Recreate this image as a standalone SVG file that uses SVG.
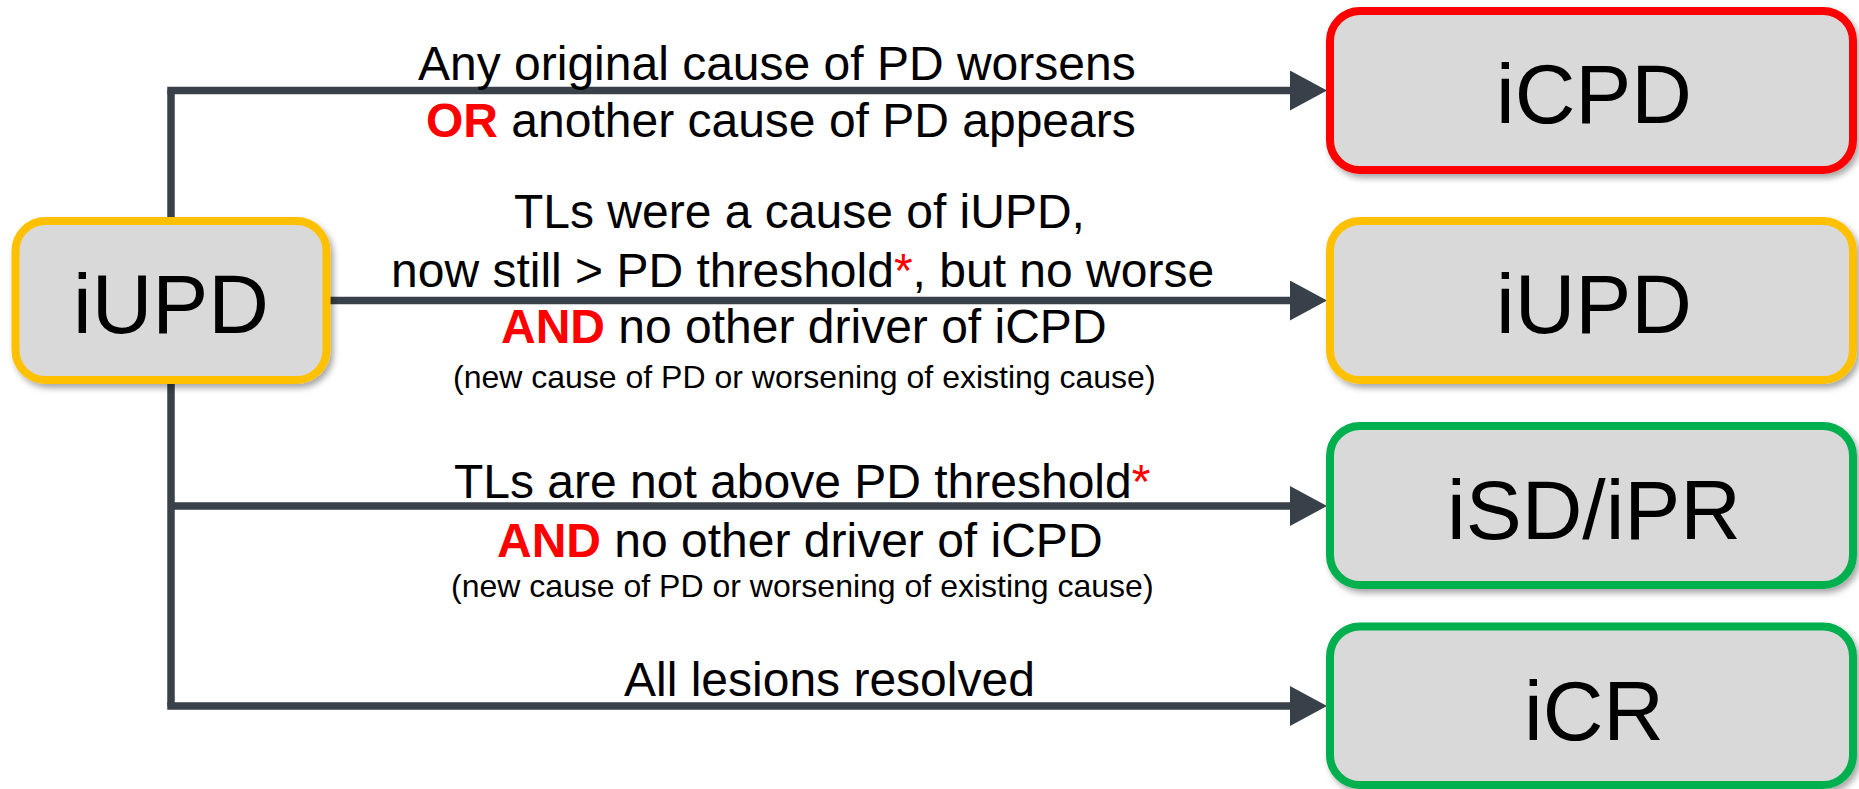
<svg xmlns="http://www.w3.org/2000/svg" width="1859" height="789" viewBox="0 0 1859 789">
<style>
.node{fill:#D9D9D9;stroke-width:8;filter:url(#sh)}
.red{stroke:#FF0000}
.amber{stroke:#FFC000}
.green{stroke:#00B050}
.nt{font-family:"Liberation Sans",Arial,sans-serif;font-size:84px;fill:#000;text-anchor:middle}
.lbl{font-family:"Liberation Sans",Arial,sans-serif;font-size:48px;fill:#000}
.sm{font-size:32px}
.kw{fill:#FF0000;font-weight:bold}
.ast{fill:#FF0000}
.conn{fill:none;stroke:#384149;stroke-width:7.5}
.arr{marker-end:url(#ah)}
</style>
<defs>
<filter id="sh" x="-10%" y="-10%" width="125%" height="130%">
<feDropShadow dx="3" dy="4" stdDeviation="3" flood-color="#000" flood-opacity="0.35"/>
</filter>
<marker id="ah" markerUnits="userSpaceOnUse" markerWidth="38" markerHeight="40" refX="0" refY="20" orient="auto" viewBox="0 0 38 40">
<path d="M0,0 L37,20 L0,40 Z" fill="#384149"/>
</marker>
</defs>
<rect width="1859" height="789" fill="#FFFFFF"/>
<g id="connectors">
<path class="conn" d="M171,90.5 V706" stroke-linejoin="round"/>
<path class="conn arr" d="M167.25,90.5 H1290"/>
<path class="conn arr" d="M167.25,706 H1290"/>
<path class="conn arr" d="M171,300.5 H1290"/>
<path class="conn arr" d="M171,506 H1290"/>
</g>
<g id="node-iUPD-source">
<rect class="node amber" x="15.5" y="221" width="311" height="159" rx="30" ry="30"/>
<text class="nt" x="171" y="333">iUPD</text>
</g>
<g id="node-iCPD">
<rect class="node red" x="1330" y="11" width="523" height="159" rx="30" ry="30"/>
<text class="nt" x="1594" y="123">iCPD</text>
</g>
<g id="node-iUPD">
<rect class="node amber" x="1330" y="221" width="523" height="159" rx="30" ry="30"/>
<text class="nt" x="1594" y="333">iUPD</text>
</g>
<g id="node-iSD-iPR">
<rect class="node green" x="1330" y="426" width="523" height="159" rx="30" ry="30"/>
<text class="nt" x="1594" y="539">iSD/iPR</text>
</g>
<g id="node-iCR">
<rect class="node green" x="1330" y="626.5" width="523" height="158.5" rx="30" ry="30"/>
<text class="nt" x="1594" y="740">iCR</text>
</g>
<g id="labels">
<text class="lbl" x="418" y="80">Any original cause of PD worsens</text>
<text class="lbl" x="426" y="137"><tspan class="kw">OR</tspan> another cause of PD appears</text>
<text class="lbl" x="514" y="228">TLs were a cause of iUPD,</text>
<text class="lbl" x="391" y="287">now still &gt; PD threshold<tspan class="ast">*</tspan>, but no worse</text>
<text class="lbl" x="501" y="343"><tspan class="kw">AND</tspan> no other driver of iCPD</text>
<text class="lbl sm" x="453" y="388">(new cause of PD or worsening of existing cause)</text>
<text class="lbl" x="454" y="498">TLs are not above PD threshold<tspan class="ast">*</tspan></text>
<text class="lbl" x="497" y="557"><tspan class="kw">AND</tspan> no other driver of iCPD</text>
<text class="lbl sm" x="451" y="597">(new cause of PD or worsening of existing cause)</text>
<text class="lbl" x="624" y="696">All lesions resolved</text>
</g>
</svg>
